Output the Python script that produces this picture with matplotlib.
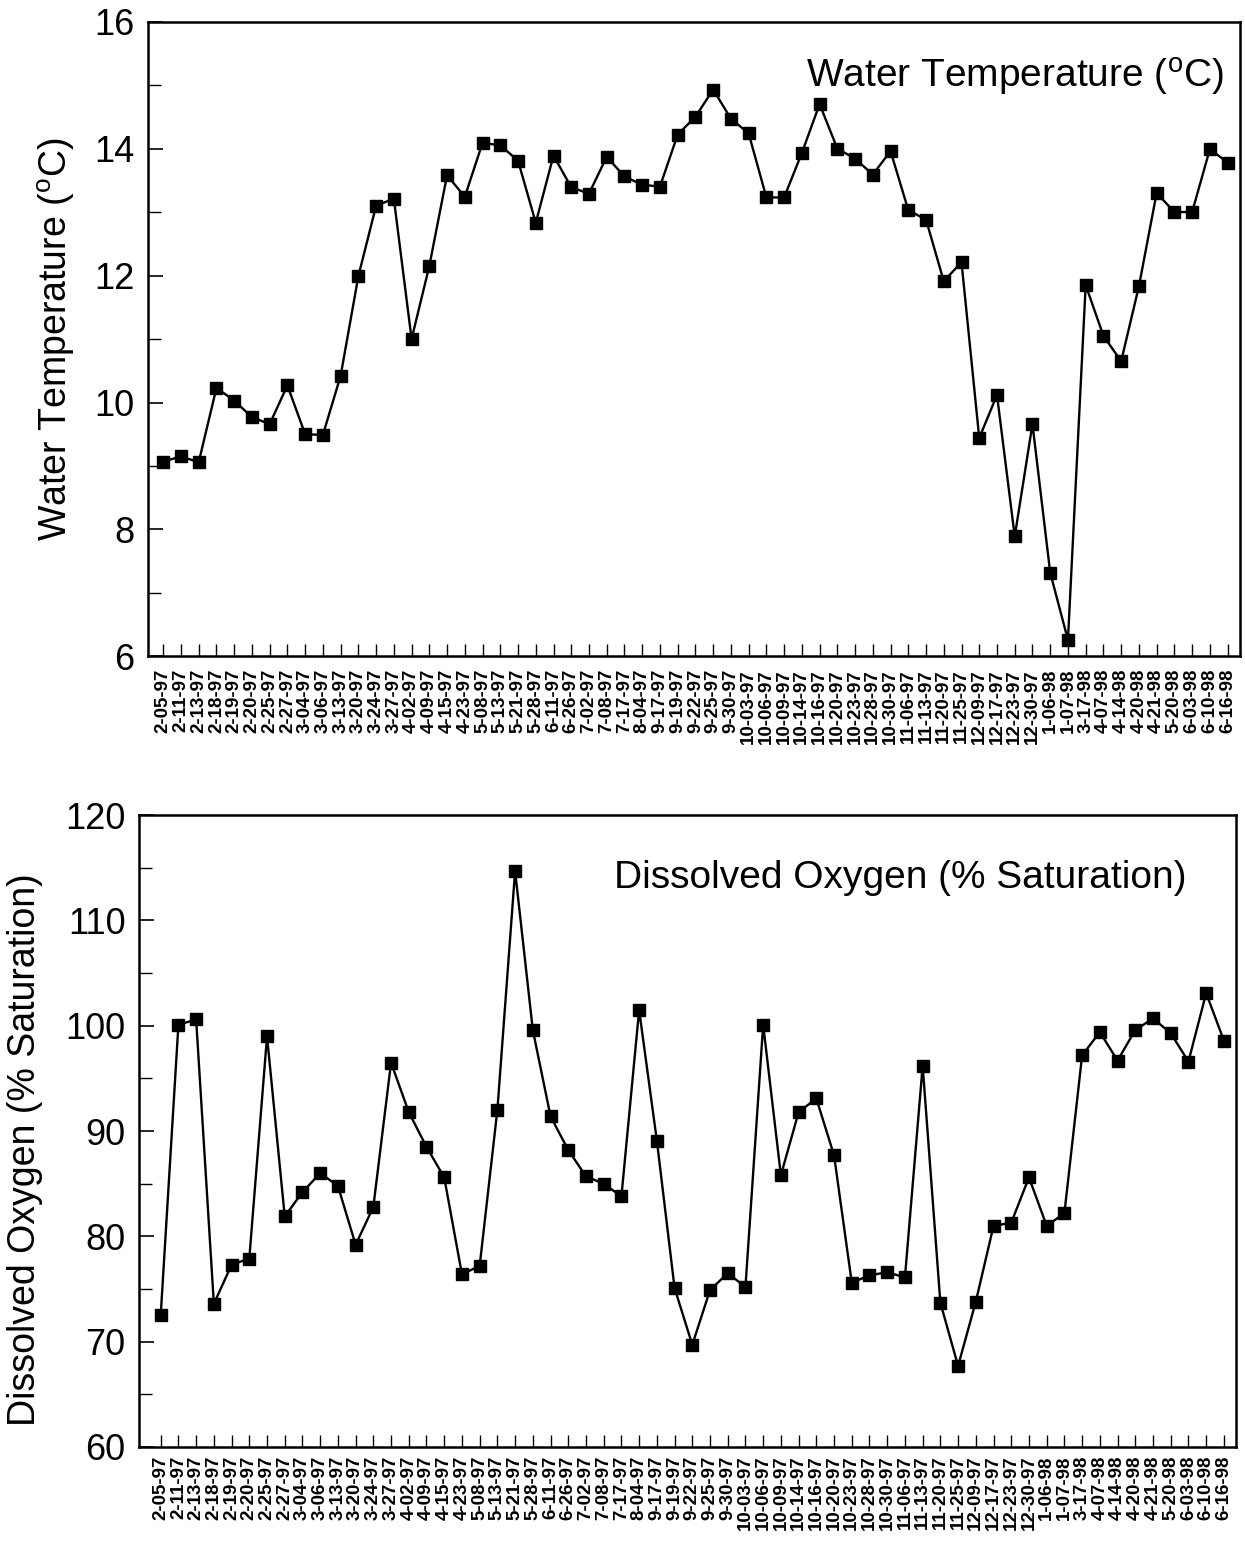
import matplotlib.pyplot as plt
from matplotlib.ticker import MultipleLocator

dates = ['2-05-97', '2-11-97', '2-13-97', '2-18-97', '2-19-97', '2-20-97', '2-25-97', '2-27-97',
         '3-04-97', '3-06-97', '3-13-97', '3-20-97', '3-24-97', '3-27-97', '4-02-97', '4-09-97',
         '4-15-97', '4-23-97', '5-08-97', '5-13-97', '5-21-97', '5-28-97', '6-11-97', '6-26-97',
         '7-02-97', '7-08-97', '7-17-97', '8-04-97', '9-17-97', '9-19-97', '9-22-97', '9-25-97',
         '9-30-97', '10-03-97', '10-06-97', '10-09-97', '10-14-97', '10-16-97', '10-20-97',
         '10-23-97', '10-28-97', '10-30-97', '11-06-97', '11-13-97', '11-20-97', '11-25-97',
         '12-09-97', '12-17-97', '12-23-97', '12-30-97', '1-06-98', '1-07-98', '3-17-98',
         '4-07-98', '4-14-98', '4-20-98', '4-21-98', '5-20-98', '6-03-98', '6-10-98', '6-16-98']

water_temp = [9.07, 9.15, 9.06, 10.23, 10.03, 9.77, 9.66, 10.27, 9.50, 9.49,
              10.42, 11.99, 13.10, 13.21, 11.00, 12.15, 13.58, 13.24, 14.09, 14.05,
              13.81, 12.83, 13.89, 13.39, 13.29, 13.87, 13.56, 13.43, 13.40, 14.22,
              14.50, 14.93, 14.47, 14.24, 13.23, 13.23, 13.93, 14.70, 14.00, 13.84,
              13.59, 13.96, 13.03, 12.88, 11.91, 12.21, 9.44, 10.12, 7.89, 9.66,
              7.32, 6.26, 11.85, 11.05, 10.65, 11.83, 13.30, 13.00, 13.00, 13.99, 13.78]

dissolved_o2 = [72.5, 100.1, 100.6, 73.6, 77.3, 77.9, 99.0, 81.9, 84.2, 86.0,
                84.8, 79.2, 82.8, 96.5, 91.8, 88.5, 85.6, 76.4, 77.2, 92.0,
                114.7, 99.6, 91.4, 88.2, 85.7, 85.0, 83.8, 101.5, 89.1, 75.1,
                69.7, 74.9, 76.5, 75.2, 100.1, 85.8, 91.8, 93.1, 87.7, 75.6,
                76.3, 76.6, 76.1, 96.2, 73.7, 67.7, 73.8, 81.0, 81.3, 85.6,
                81.0, 82.2, 97.2, 99.4, 96.7, 99.6, 100.7, 99.3, 96.6, 103.1, 98.6]

plt.rcParams['font.family'] = ['Liberation Sans', 'DejaVu Sans']


def style_axes(ax, ymin, ymax, major, minor, xlo, xpad):
    x = list(range(len(dates)))
    ax.set_xlim(xlo, len(dates) - 0.3)
    ax.set_ylim(ymin, ymax)
    ax.set_xticks(x)
    ax.set_xticklabels(dates, rotation=90, fontsize=13.5, fontweight='bold')
    ax.yaxis.set_major_locator(MultipleLocator(major))
    ax.yaxis.set_minor_locator(MultipleLocator(minor))
    ax.tick_params(axis='x', direction='in', length=9, width=1, pad=xpad, top=False)
    ax.tick_params(axis='y', which='major', direction='in', length=11, width=1.2,
                   labelsize=26, pad=10, right=False)
    ax.tick_params(axis='y', which='minor', direction='in', length=9, width=1, right=False)
    for s in ax.spines.values():
        s.set_linewidth(1.8)


fig = plt.figure(figsize=(12.45, 15.41), dpi=100)

# water temperature
ax1 = fig.add_axes([0.119, 0.574, 0.877, 0.412])
ax1.plot(range(len(dates)), water_temp, '-s', color='black', lw=1.7, ms=8)
style_axes(ax1, 6, 16, 2, 1, -0.85, 9)
ax1.set_ylabel('Water Temperature ($\\mathregular{^oC}$)', fontsize=27, labelpad=12)
ax1.text(0.985, 0.913, 'Water Temperature ($\\mathregular{^oC}$)', transform=ax1.transAxes,
         ha='right', va='center', fontsize=28)

# dissolved oxygen
ax2 = fig.add_axes([0.112, 0.061, 0.881, 0.410])
ax2.plot(range(len(dates)), dissolved_o2, '-s', color='black', lw=1.7, ms=8)
style_axes(ax2, 60, 120, 10, 5, -1.2, 6)
ax2.set_ylabel('Dissolved Oxygen (% Saturation)', fontsize=27)
ax2.yaxis.set_label_coords(-0.088, 0.47)
ax2.text(0.955, 0.9, 'Dissolved Oxygen (% Saturation)', transform=ax2.transAxes,
         ha='right', va='center', fontsize=28)

plt.savefig('out.png')
